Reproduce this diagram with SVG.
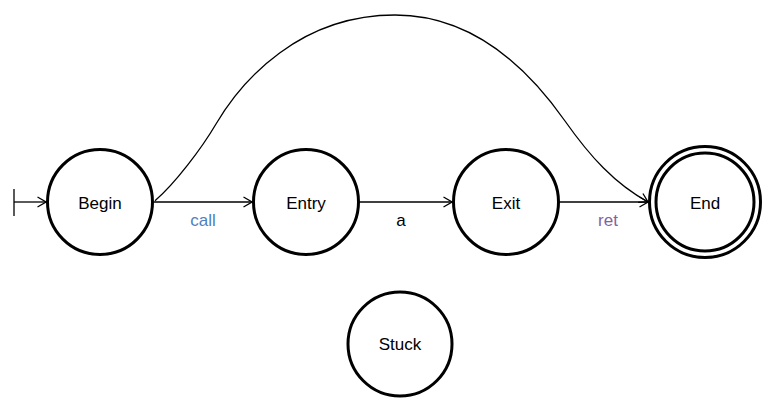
<svg xmlns="http://www.w3.org/2000/svg" width="767" height="403" viewBox="0 0 767 403">
  <defs>
    <marker id="open" viewBox="0 0 10 12" refX="9.5" refY="6" markerWidth="10" markerHeight="12" markerUnits="userSpaceOnUse" orient="auto">
      <path d="M1,1 L9.5,6 L1,11" fill="none" stroke="#000" stroke-width="1.3"/>
    </marker>
  </defs>
  <style>
    .state { fill: #fff; stroke: #000; stroke-width: 3; }
    .name { font-family: "Liberation Sans", Arial, sans-serif; font-size: 17px; fill: #000; text-anchor: middle; }
    .edge { fill: none; stroke: #000; stroke-width: 1.3; }
    .lbl { font-family: "Liberation Sans", Arial, sans-serif; font-size: 17px; text-anchor: middle; }
  </style>
  <rect width="767" height="403" fill="#fff"/>

  <!-- transitions -->
  <g id="connectors">
    <path class="edge" d="M14,189 V216"/>
    <path class="edge" d="M14,202 H46" marker-end="url(#open)"/>
    <path class="edge" d="M154,202 H252" marker-end="url(#open)"/>
    <path class="edge" d="M360,202 H452" marker-end="url(#open)"/>
    <path class="edge" d="M560,202 H648" marker-end="url(#open)"/>
    <!-- Begin to End bypass arc -->
    <path class="edge" d="M155,200.7 C175,183.7 202,147.8 216,124 C242,79.8 300,15 395,15 C465,15 520,57 565,121 C590,156.5 615,184 648,202" marker-end="url(#open)"/>
    <text class="lbl" x="203" y="226" fill="#4F81BD">call</text>
    <text class="lbl" x="401" y="226" fill="#000">a</text>
    <text class="lbl" x="608" y="226" fill="#8064A2">ret</text>
  </g>

  <!-- states -->
  <g id="begin">
    <circle class="state" cx="100" cy="202" r="52.5"/>
    <text class="name" x="100" y="209">Begin</text>
  </g>
  <g id="entry">
    <circle class="state" cx="306" cy="202" r="52.5"/>
    <text class="name" x="306" y="209">Entry</text>
  </g>
  <g id="exit">
    <circle class="state" cx="506" cy="202" r="52.5"/>
    <text class="name" x="506" y="209">Exit</text>
  </g>
  <g id="end">
    <circle class="state" cx="705" cy="202" r="55.5"/>
    <circle class="state" cx="705" cy="202" r="49"/>
    <text class="name" x="705" y="209">End</text>
  </g>
  <g id="stuck">
    <circle class="state" cx="400" cy="344" r="52"/>
    <text class="name" x="400" y="350">Stuck</text>
  </g>
</svg>
